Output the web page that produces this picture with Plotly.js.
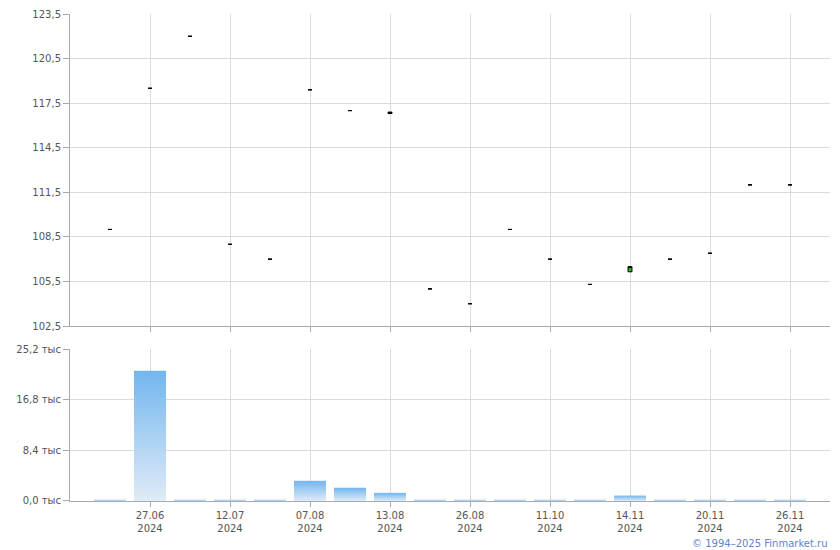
<!DOCTYPE html>
<html><head><meta charset="utf-8">
<script src="https://cdn.plot.ly/plotly-3.0.1.min.js"></script>
<style>html,body{margin:0;padding:0;background:#fff;}#chart{width:840px;height:550px;}</style>
</head><body><div id="chart"></div>
<script>
// Trading days (index positions on the axis)
const dates = ['20.06','27.06','04.07','12.07','25.07','07.08','09.08','13.08','20.08','26.08','02.10','11.10','05.11','14.11','18.11','20.11','25.11','26.11'];
const years = ['2024','2024','2024','2024','2024','2024','2024','2024','2024','2024','2024','2024','2024','2024','2024','2024','2024','2024'];
// Prices
const openP  = [109.0,118.5,122.0,108.0,107.0,118.4,117.0,116.9,105.0,104.0,109.0,107.0,105.3,106.15,107.0,107.4,112.0,112.0];
const highP  = [109.0,118.5,122.0,108.0,107.0,118.4,117.0,116.9,105.0,104.0,109.0,107.0,105.3,106.5,107.0,107.4,112.0,112.0];
const lowP   = [109.0,118.5,122.0,108.0,107.0,118.4,117.0,116.8,105.0,104.0,109.0,107.0,105.3,106.15,107.0,107.4,112.0,112.0];
const closeP = [109.0,118.5,122.0,108.0,107.0,118.4,117.0,116.8,105.0,104.0,109.0,107.0,105.3,106.5,107.0,107.4,112.0,112.0];
// Volumes
const volume = [200,21600,200,200,200,3350,2200,1350,200,200,200,200,200,900,200,200,200,200];
// Axis ticks
const priceTicks = [102.5,105.5,108.5,111.5,114.5,117.5,120.5,123.5];
const priceTickText = ['102,5','105,5','108,5','111,5','114,5','117,5','120,5','123,5'];
const volTicks = [0,8400,16800,25200];
const volTickText = ['0,0 тыс','8,4 тыс','16,8 тыс','25,2 тыс'];

const idx = dates.map((d,i)=>i);
const labelIdx = idx.filter(i=>i%2===1);
const labelText = labelIdx.map(i=>dates[i]+'<br>'+years[i]);

const gridC = '#d6dbe1', axisC = '#a6abb1', tickFont = {family:'Verdana, "DejaVu Sans", sans-serif', size:10, color:'#555'};

const traces = [
  {type:'candlestick', x:idx, open:openP, high:highP, low:lowP, close:closeP, xaxis:'x', yaxis:'y',
   increasing:{line:{color:'#000',width:1}, fillcolor:'#22c422'},
   decreasing:{line:{color:'#000',width:1}, fillcolor:'#000'},
   whiskerwidth:0, hoverinfo:'skip', showlegend:false},
  {type:'bar', x:idx, y:volume, xaxis:'x2', yaxis:'y2', marker:{color:'#8cc3ee', line:{width:0}},
   hoverinfo:'skip', showlegend:false}
];

const xcommon = {range:[-1,18], tickmode:'array', tickvals:labelIdx, showgrid:true, gridcolor:gridC, gridwidth:1,
  zeroline:false, showline:true, linecolor:axisC, linewidth:1, ticks:'outside', ticklen:5, tickcolor:axisC, tickfont:tickFont};

const layout = {
  width:840, height:550, margin:{l:70,r:10,t:14,b:49}, paper_bgcolor:'#fff', plot_bgcolor:'#fff',
  boxgap:0.86, bargap:0.2, showlegend:false,
  xaxis:Object.assign({}, xcommon, {anchor:'y', showticklabels:false, ticktext:labelText, rangeslider:{visible:false}}),
  xaxis2:Object.assign({}, xcommon, {anchor:'y2', ticktext:labelText, showticklabels:true}),
  yaxis:{domain:[0.3593,1], range:[102.5,123.5], tickmode:'array', tickvals:priceTicks, ticktext:priceTickText,
    showgrid:true, gridcolor:gridC, zeroline:false, showline:true, linecolor:axisC, ticks:'outside', ticklen:6, tickcolor:axisC, tickfont:tickFont},
  yaxis2:{domain:[0,0.3121], range:[0,25200], tickmode:'array', tickvals:volTicks, ticktext:volTickText,
    showgrid:true, gridcolor:gridC, zeroline:false, showline:true, linecolor:axisC, ticks:'outside', ticklen:6, tickcolor:axisC, tickfont:tickFont},
  annotations:[{text:'© 1994–2025 Finmarket.ru', xref:'paper', yref:'paper', x:1, y:0, xanchor:'right', yanchor:'top', yshift:-35,
    showarrow:false, font:{family:'Verdana, "DejaVu Sans", sans-serif', size:10, color:'#5f83d2'}}]
};

Plotly.newPlot('chart', traces, layout, {staticPlot:true, displayModeBar:false}).then(gd=>{
  const svg = gd.querySelector('.main-svg');
  const ns = 'http://www.w3.org/2000/svg';
  let defs = svg.querySelector('defs');
  if(!defs){defs=document.createElementNS(ns,'defs'); svg.insertBefore(defs, svg.firstChild);}
  const g = document.createElementNS(ns,'linearGradient');
  g.setAttribute('id','volgrad'); g.setAttribute('x1','0'); g.setAttribute('y1','0'); g.setAttribute('x2','0'); g.setAttribute('y2','1');
  [['0','#72b6ee'],['1','#e0ebf7']].forEach(([o,c])=>{const s=document.createElementNS(ns,'stop'); s.setAttribute('offset',o); s.setAttribute('stop-color',c); g.appendChild(s);});
  defs.appendChild(g);
  gd.querySelectorAll('.barlayer .point path').forEach(p=>{p.style.fill='url(#volgrad)';});
});
</script></body></html>
